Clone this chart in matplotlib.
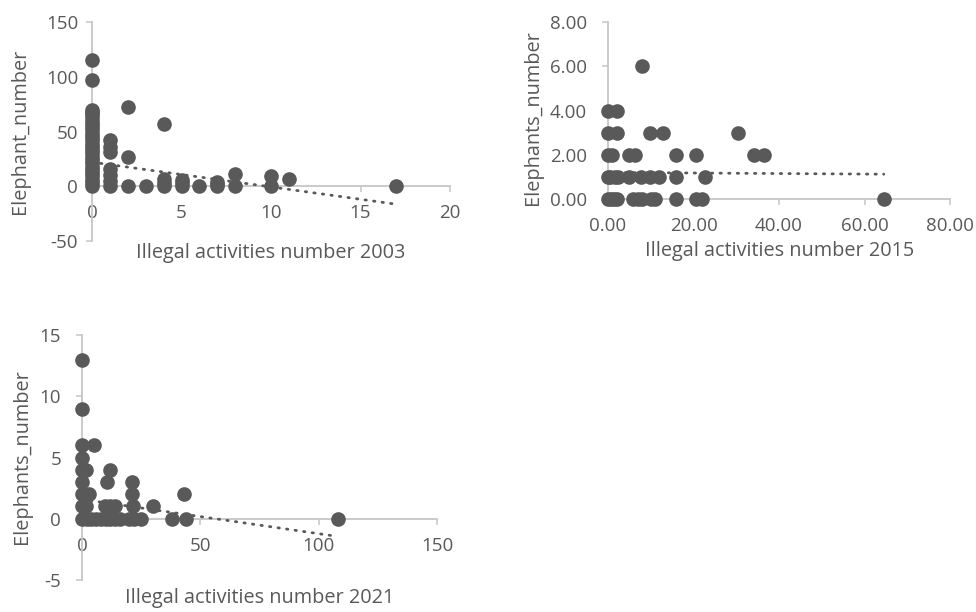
import numpy as np
import matplotlib
matplotlib.use("Agg")
from matplotlib import pyplot as plt

# 2003 survey
x_2003 = [0] * 27 + [1] * 7 + [2] * 3 + [3] + [4] * 4 + [5] * 3 + [6] + [7] * 3 + [8] * 2 + [10] * 2 + [11] + [17]
y_2003 = [115, 97, 70, 68, 66, 63, 60, 57, 54, 51, 48, 45, 42, 39, 36, 33, 30, 27, 24, 21, 18, 15, 12, 9, 6, 3, 0,
          42, 36, 31, 16, 10, 5, 0,
          72, 27, 0,
          0,
          57, 7, 3, 0,
          6, 3, 0,
          0,
          4, 2, 0,
          11, 0,
          9, 0,
          7,
          0]
trend_2003 = (-2.26, 22.0)   # slope, intercept

# 2015 survey
x_2015 = [0, 0.7, 1.5, 2.2, 5.8, 7, 8, 10, 11, 16, 20.5, 22, 64.5,
          0, 0.5, 1.6, 2.4, 5, 7.7, 9.7, 12, 15.8, 22.7,
          0, 1, 5, 6.2, 15.8, 20.5, 34.2, 36.5,
          0, 2.1, 9.8, 12.8, 30.4,
          0, 2.1,
          8]
y_2015 = [0] * 13 + [1] * 10 + [2] * 8 + [3] * 5 + [4] * 2 + [6]
trend_2015 = (-0.0012, 1.2)

# 2021 survey
x_2021 = [0, 0, 0, 0, 0, 0, 0, 0, 0,
          5, 1.7, 3, 1.5,
          12, 10.4, 9.7, 11.8, 14, 21, 21, 21.5, 30, 43,
          2, 4, 6, 8, 10, 12, 14, 16, 20, 22, 25, 38, 44, 108]
y_2021 = [13, 9, 6, 5, 4, 3, 2, 1, 0,
          6, 4, 2, 1,
          4, 3, 1, 1, 1, 3, 2, 1, 1, 2,
          0, 0, 0, 0, 0, 0, 0, 0, 0, 0, 0, 0, 0, 0]
trend_2021 = (-0.028, 1.58)

plt.rcParams['font.family'] = ['Open Sans', 'DejaVu Sans']
grey = '#595959'
axis_grey = '#c6c6c6'

fig = plt.figure(figsize=(9.76, 6.12), dpi=100)


def panel(rect, xs, ys, trend, xlim, ylim, xticks, yticks, fmt, ypad):
    ax = fig.add_axes(rect)
    ax.plot(xs, ys, 'o', color=grey, markersize=9.5, clip_on=False, zorder=3)
    tx = np.array([min(xs), max(xs)])
    ax.plot(tx, trend[0] * tx + trend[1], color=grey, lw=2,
            linestyle=(0, (0.5, 2.6)), dash_capstyle='round', zorder=4, clip_on=False)
    ax.set_xlim(*xlim)
    ax.set_ylim(*ylim)
    ax.set_xticks(xticks)
    ax.set_yticks(yticks)
    ax.set_xticklabels([fmt.format(v) for v in xticks])
    ax.set_yticklabels([fmt.format(v) for v in yticks])
    for s in ['top', 'right']:
        ax.spines[s].set_visible(False)
    ax.spines['left'].set_position(('data', 0))
    ax.spines['bottom'].set_position(('data', 0))
    for s in ['left', 'bottom']:
        ax.spines[s].set_color(axis_grey)
        ax.spines[s].set_linewidth(1.3)
    ax.tick_params(axis='both', direction='out', length=4, width=1.1, color=axis_grey,
                   labelcolor=grey, labelsize=13.5)
    ax.tick_params(axis='x', pad=9)
    ax.tick_params(axis='y', pad=ypad)
    ax.set_facecolor('none')
    return ax


ax1 = panel([0.0943, 0.6062, 0.3668, 0.3578], x_2003, y_2003, trend_2003,
            (0, 20), (-50, 150), [0, 5, 10, 15, 20], [-50, 0, 50, 100, 150], '{:g}', 6)
ax2 = panel([0.623, 0.6748, 0.3504, 0.2892], x_2015, y_2015, trend_2015,
            (0, 80), (0, 8), [0, 20, 40, 60, 80], [0, 2, 4, 6, 8], '{:.2f}', 11)
ax3 = panel([0.084, 0.0523, 0.3637, 0.4003], x_2021, y_2021, trend_2021,
            (0, 150), (-5, 15), [0, 50, 100, 150], [-5, 0, 5, 10, 15], '{:g}', 11)


def label(px, py, text, rot=0):
    fig.text(px / 976, 1 - py / 612, text, color=grey, fontsize=14.3,
             rotation=rot, ha='center', va='center')


label(271, 253, 'Illegal activities number 2003')
label(20, 131, 'Elephant_number', 90)
label(780, 251, 'Illegal activities number 2015')
label(533, 118, 'Elephants_number', 90)
label(260, 598, 'Illegal activities number 2021')
label(22, 457, 'Elephants_number', 90)

fig.savefig('out.png', dpi=100)
